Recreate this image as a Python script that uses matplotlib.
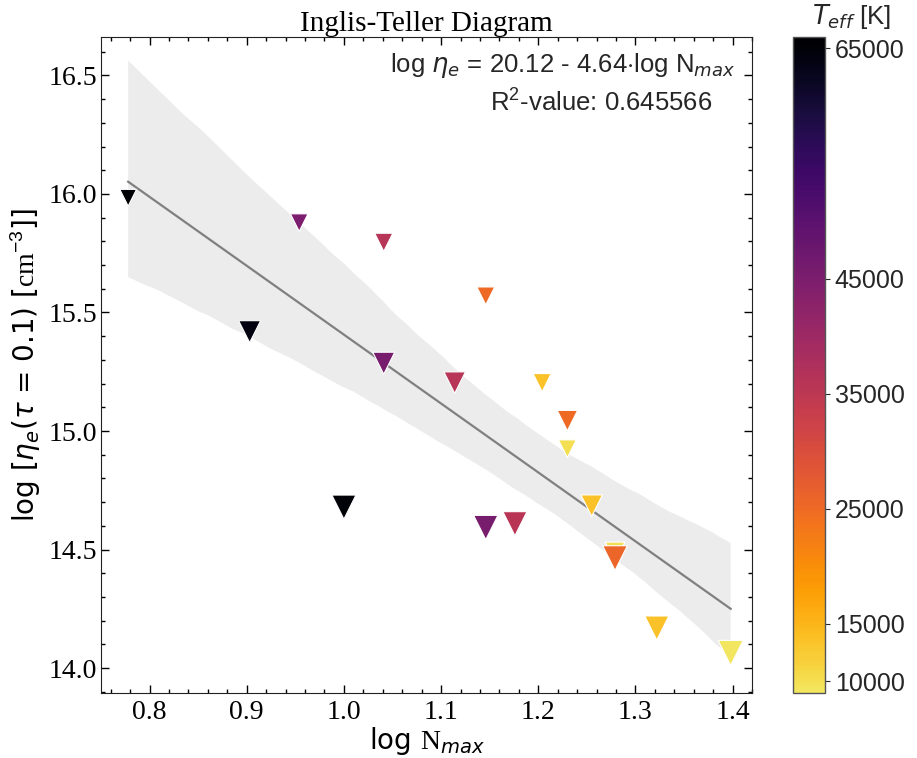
import matplotlib
matplotlib.use('Agg')
import matplotlib.pyplot as plt
import matplotlib.colors as mcolors
from matplotlib.ticker import MultipleLocator
import numpy as np
import seaborn as sns

# log N_max, log n_e(tau=0.1), effective temperature and marker area for each star
log_nmax = [0.778, 0.903, 1.000, 0.954, 1.041, 1.041, 1.114, 1.146, 1.146,
            1.176, 1.204, 1.230, 1.230, 1.255, 1.279, 1.279, 1.322, 1.398]
log_ne = [15.984, 15.419, 14.679, 15.879, 15.796, 15.286, 15.204, 15.570, 14.593,
          14.609, 15.204, 15.044, 14.925, 14.685, 14.490, 14.464, 14.169, 14.064]
teff = [66000, 64000, 65000, 45000, 36000, 45500, 36000, 25000, 45500,
        35500, 13500, 25000, 10000, 13500, 10000, 25500, 13500, 9000]
marker_area = [145, 250, 300, 160, 170, 250, 240, 165, 305,
               300, 170, 215, 165, 240, 200, 315, 300, 325]

cbar_ticks = [10000, 15000, 25000, 35000, 45000, 65000]
fit_text = r'log $\eta_e$ = 20.12 - 4.64$\cdot$log N$_{max}$'
r2_text = r'R$^{\mathsf{2}}$-value: 0.645566'

plt.rcParams['font.family'] = ['Liberation Sans', 'DejaVu Sans']
plt.rcParams['mathtext.fontset'] = 'custom'
plt.rcParams['mathtext.rm'] = 'Liberation Serif'
plt.rcParams['mathtext.it'] = 'DejaVu Sans:italic'
plt.rcParams['mathtext.sf'] = 'Liberation Sans'
plt.rcParams['text.color'] = '#262626'

# reversed inferno, cut before the palest yellow
base = plt.get_cmap('inferno')
cmap = mcolors.ListedColormap(base(np.linspace(0.93, 0.0, 256)))

fig = plt.figure(figsize=(9.17, 7.58), dpi=100)
ax = fig.add_axes([0.1101, 0.0858, 0.71, 0.8654])
cax = fig.add_axes([0.8648, 0.0858, 0.0349, 0.8654])

# regression line with bootstrapped confidence band
sns.regplot(x=np.array(log_nmax), y=np.array(log_ne), ax=ax, scatter=False,
            color='gray', ci=95, seed=3, line_kws={'lw': 1.6})

sc = ax.scatter(log_nmax, log_ne, c=teff, s=marker_area, cmap=cmap,
                vmin=min(teff), vmax=max(teff), marker='v',
                edgecolors='white', linewidths=0.8, zorder=3)

ax.set_xlim(0.75, 1.42)
ax.set_ylim(13.895, 16.662)
ax.xaxis.set_major_locator(MultipleLocator(0.1))
ax.xaxis.set_minor_locator(MultipleLocator(0.02))
ax.yaxis.set_major_locator(MultipleLocator(0.5))
ax.yaxis.set_minor_locator(MultipleLocator(0.1))
ax.tick_params(which='both', direction='in', top=True, right=True, width=1)
ax.tick_params(which='major', length=6)
ax.tick_params(which='minor', length=3)
ax.tick_params(axis='x', which='major', pad=5)
ax.tick_params(axis='y', which='major', pad=3)
for lab in ax.get_xticklabels() + ax.get_yticklabels():
    lab.set_fontfamily('Liberation Serif')
    lab.set_fontsize(20)
    lab.set_color('black')
for sp in ax.spines.values():
    sp.set_color('#222222')

ax.set_xlabel(r'log $\mathrm{N}_{max}$', fontsize=20, family='DejaVu Sans',
              color='black', labelpad=0)
ax.set_ylabel(r'log [$\eta_e$($\tau$ = 0.1) [$\mathrm{cm}^{\mathsf{-3}}$]]',
              fontsize=20, family='DejaVu Sans', color='black')
ax.set_title('Inglis-Teller Diagram', fontsize=21, family='Liberation Serif',
             color='black', pad=4)

ax.text(0.975, 0.957, fit_text, transform=ax.transAxes, ha='right', va='center',
        fontsize=18.5)
ax.text(0.939, 0.902, r2_text, transform=ax.transAxes, ha='right', va='center',
        fontsize=18.5)

cb = fig.colorbar(sc, cax=cax, ticks=cbar_ticks)
cb.ax.tick_params(labelsize=18, colors='#262626')
cb.outline.set_edgecolor('#555555')
cb.outline.set_linewidth(1)
fig.text(0.929, 0.978, r'$T_{eff}$ [K]', ha='center', va='center', fontsize=18.5)

fig.savefig('out.png', dpi=100)
